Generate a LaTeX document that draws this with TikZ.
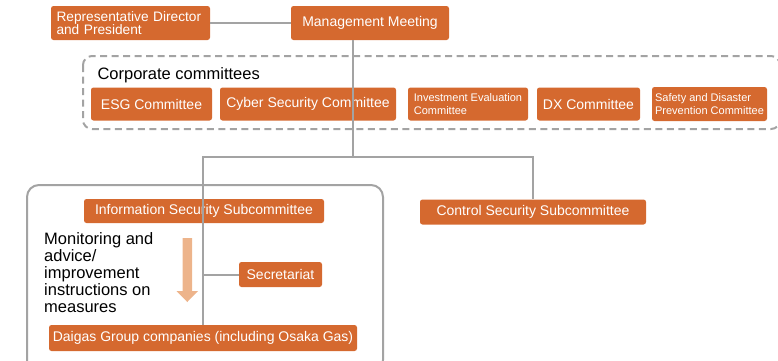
\documentclass[tikz,border=0pt]{standalone}
\usepackage{fontspec}
\setmainfont{Liberation Sans}
\definecolor{dgorange}{HTML}{D5692F}
\definecolor{dggray}{HTML}{A3A3A3}
\definecolor{dgtan}{HTML}{EDB48B}

\begin{document}
\begin{tikzpicture}[x=1pt,y=-1pt,
  box/.style={fill=dgorange,text=white,rounded corners=2.5pt,inner sep=0pt,align=center,font=\fontsize{14}{14}\selectfont},
  small box/.style={box,font=\fontsize{11}{12.5}\selectfont},
  conn/.style={draw=dggray,line width=2pt}]
  \useasboundingbox (0,0) rectangle (778,360);

  % top level
  \node[box,minimum width=159pt,minimum height=34pt,align=left,text width=148pt,font=\fontsize{13.7}{13}\selectfont] (rep) at (130.5,23) {Representative Director\\and President};
  \node[box,minimum width=158pt,minimum height=34pt] (mm) at (370,23) {Management Meeting};

  % corporate committees
  \draw[dggray,line width=2pt,dash pattern=on 7pt off 4.5pt,rounded corners=9pt] (83,56) rectangle (780,129);
  \node[anchor=base west,font=\fontsize{16.5}{17}\selectfont] (cc) at (94,79) {Corporate committees};
  \node[box,minimum width=121pt,minimum height=33pt] (esg) at (151.5,104) {ESG Committee};
  \node[box,minimum width=176pt,minimum height=33pt] (cyber) at (308,104) {Cyber Security Committee};
  \node[small box,minimum width=120pt,minimum height=33pt,align=left] (inv) at (468,104) {Investment Evaluation\\Committee};
  \node[box,minimum width=103pt,minimum height=33pt] (dx) at (588.5,104) {DX Committee};
  \node[small box,minimum width=115pt,minimum height=34pt,align=left] (safety) at (709.5,104) {Safety and Disaster\\Prevention Committee};

  % subcommittees
  \draw[dggray,line width=2pt,rounded corners=12pt] (27,185) rectangle (383,372);
  \node[box,minimum width=240pt,minimum height=24pt] (infosec) at (204,211) {Information Security Subcommittee};
  \node[box,minimum width=226pt,minimum height=25pt] (ctrl) at (533,212) {Control Security Subcommittee};
  \node[box,minimum width=83pt,minimum height=25pt] (secr) at (280.5,274.5) {Secretariat};
  \node[box,minimum width=308pt,minimum height=26pt] (daigas) at (203,338) {Daigas Group companies (including Osaka Gas)};
  \node[anchor=north west,align=left,inner sep=0pt,font=\fontsize{16.5}{17}\selectfont] (mon) at (44,232) {Monitoring and\\advice/\\improvement\\instructions on\\measures};
  \fill[dgtan] (182.5,238) -- (192,238) -- (192,291) -- (198,291) -- (187.25,302) -- (176.5,291) -- (182.5,291) -- cycle;

  % connectors
  \coordinate (drop) at (352.5,40);
  \coordinate (split) at (352.5,157);
  \draw[conn] (rep) -- (mm);
  \draw[conn] (drop) -- (split);
  \draw[conn] (split) -| (daigas.north);
  \draw[conn] (split) -| (ctrl.north);
  \draw[conn] (secr.west) -- (secr.west -| daigas.north);
\end{tikzpicture}
\end{document}
